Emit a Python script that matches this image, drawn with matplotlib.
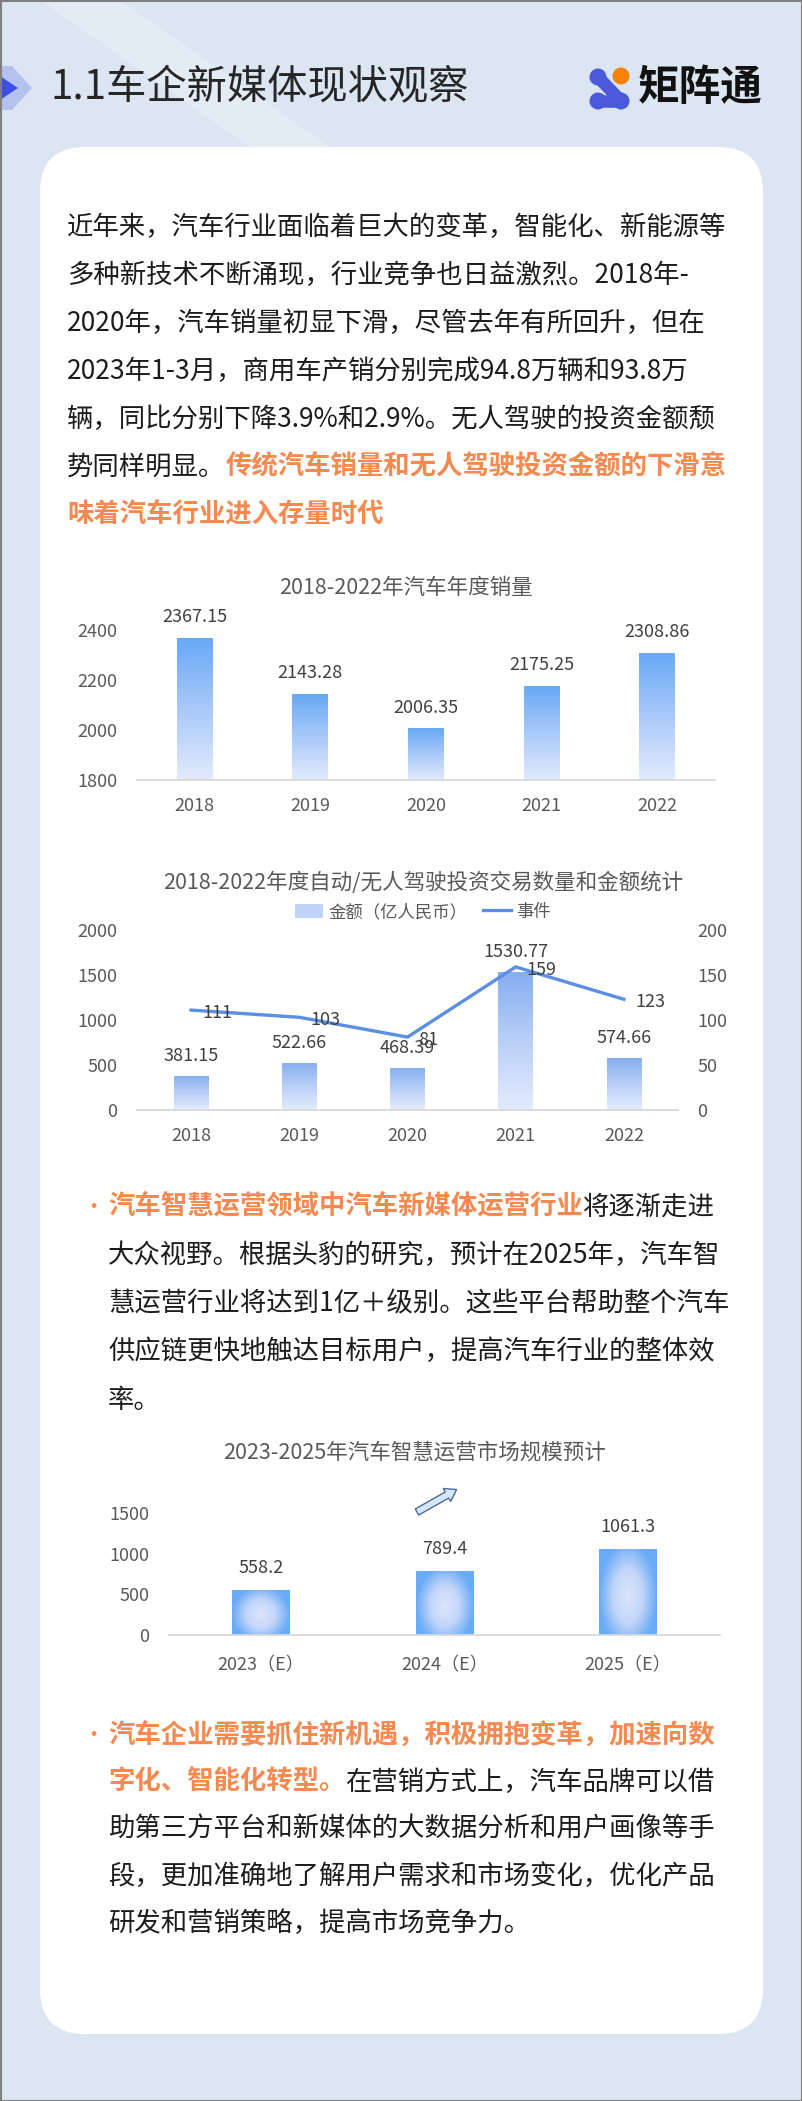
import numpy as np
import matplotlib.pyplot as plt
from matplotlib.patches import FancyBboxPatch, Polygon, Circle, Rectangle, FancyArrow
from matplotlib.lines import Line2D
from matplotlib.colors import LinearSegmentedColormap

plt.rcParams['font.family'] = ['Noto Sans CJK SC', 'DejaVu Sans']

W, H = 802, 2101

# ---- data ----
sales_years = ['2018', '2019', '2020', '2021', '2022']
sales_values = [2367.15, 2143.28, 2006.35, 2175.25, 2308.86]
sales_ticks = [1800, 2000, 2200, 2400]

invest_years = ['2018', '2019', '2020', '2021', '2022']
invest_amount = [381.15, 522.66, 468.39, 1530.77, 574.66]
invest_events = [111, 103, 81, 159, 123]
amount_ticks = [0, 500, 1000, 1500, 2000]
event_ticks = [0, 50, 100, 150, 200]

market_years = ['2023（E）', '2024（E）', '2025（E）']
market_values = [558.2, 789.4, 1061.3]
market_ticks = [0, 500, 1000, 1500]

title = '1.1车企新媒体现状观察'
chart_titles = ['2018-2022年汽车年度销量',
                '2018-2022年度自动/无人驾驶投资交易数量和金额统计',
                '2023-2025年汽车智慧运营市场规模预计']

para1 = [
    [('近年来，汽车行业面临着巨大的变革，智能化、新能源等', 'k')],
    [('多种新技术不断涌现，行业竞争也日益激烈。2018年-', 'k')],
    [('2020年，汽车销量初显下滑，尽管去年有所回升，但在', 'k')],
    [('2023年1-3月，商用车产销分别完成94.8万辆和93.8万', 'k')],
    [('辆，同比分别下降3.9%和2.9%。无人驾驶的投资金额颓', 'k')],
    [('势同样明显。', 'k'), ('传统汽车销量和无人驾驶投资金额的下滑意', 'o')],
    [('味着汽车行业进入存量时代', 'o')],
]
para2 = [
    [('汽车智慧运营领域中汽车新媒体运营行业', 'o'), ('将逐渐走进', 'k')],
    [('大众视野。根据头豹的研究，预计在2025年，汽车智', 'k')],
    [('慧运营行业将达到1亿＋级别。这些平台帮助整个汽车', 'k')],
    [('供应链更快地触达目标用户，提高汽车行业的整体效', 'k')],
    [('率。', 'k')],
]
para3 = [
    [('汽车企业需要抓住新机遇，积极拥抱变革，加速向数', 'o')],
    [('字化、智能化转型。', 'o'), ('在营销方式上，汽车品牌可以借', 'k')],
    [('助第三方平台和新媒体的大数据分析和用户画像等手', 'k')],
    [('段，更加准确地了解用户需求和市场变化，优化产品', 'k')],
    [('研发和营销策略，提高市场竞争力。', 'k')],
]

ORANGE = '#f5894f'
BLACK = '#1c1c1c'
TICK = '#595959'
FS = 13

fig = plt.figure(figsize=(W / 100, H / 100), dpi=100)
fig.patch.set_facecolor('#dce6f2')

bg = fig.add_axes([0, 0, 1, 1])
bg.set_xlim(0, W)
bg.set_ylim(H, 0)
bg.axis('off')

# background decoration
bg.add_patch(Polygon([(40, 0), (120, 0), (330, 147), (250, 147)],
                     color='#e3ebf5', lw=0, zorder=0))
bg.add_patch(Polygon([(0, 66), (12, 66), (32, 88), (12, 110), (0, 110)],
                     color='#b3c3ee', lw=0, zorder=1))
bg.add_patch(Polygon([(0, 76), (18, 88), (0, 100)], color='#3b4fe3', lw=0, zorder=2))

bg.text(51, 88, title, fontsize=29, color='#262626', va='center', ha='left')

# logo
blue = '#4a5ad8'
bg.plot([598, 621], [77, 101], color=blue, lw=9, solid_capstyle='round', zorder=3)
bg.plot([598, 621], [101, 101], color=blue, lw=9, solid_capstyle='round', zorder=3)
for cx, cy, c in [(598, 77, blue), (598, 101, blue), (621, 101, blue), (621, 76, '#f5820d')]:
    bg.add_patch(Circle((cx, cy), 8.5, color=c, lw=0, zorder=4))
bg.text(638, 88, '矩阵通', fontsize=30, fontweight='black', color='#111111',
        va='center', ha='left')

# card
bg.add_patch(FancyBboxPatch((40, 147), 723, 1887,
                            boxstyle='round,pad=0,rounding_size=45',
                            facecolor='white', edgecolor='none', zorder=1))
bg.add_patch(Rectangle((0.5, 0.5), W - 1, H - 1, fill=False,
                       edgecolor='#7f7f7f', lw=1.5, zorder=10))


def draw_lines(lines, x, y0, step, bullet=False):
    for i, segs in enumerate(lines):
        y = y0 + step * i
        prev = None
        for s, c in segs:
            kw = dict(fontsize=19, va='center', ha='left',
                      color=ORANGE if c == 'o' else BLACK,
                      fontweight='bold' if c == 'o' else 'normal', zorder=5)
            if prev is None:
                prev = bg.text(x, y, s, **kw)
            else:
                prev = bg.annotate(s, xy=(1, 0.5), xycoords=prev, **kw)
    if bullet:
        bg.text(93, y0, '•', fontsize=16, color=ORANGE, va='center', ha='center')


draw_lines(para1, 67, 227, 48)
draw_lines(para2, 108, 1207, 48.3, bullet=True)
draw_lines(para3, 108, 1736, 46.8, bullet=True)


def px_axes(l, t, r, b):
    return fig.add_axes([l / W, 1 - b / H, (r - l) / W, (b - t) / H])


def style(ax, pad_y=14, pad_x=12):
    for s in ax.spines.values():
        s.set_visible(False)
    ax.spines['bottom'].set_visible(True)
    ax.spines['bottom'].set_color('#d9d9d9')
    ax.spines['bottom'].set_linewidth(1.3)
    ax.tick_params(length=0, labelsize=FS, labelcolor=TICK)
    ax.tick_params(axis='y', pad=pad_y)
    ax.tick_params(axis='x', pad=pad_x)
    ax.patch.set_visible(False)


lin_grad = np.linspace(0, 1, 256).reshape(-1, 1)
yy, xx = np.mgrid[0:1:200j, 0:1:100j]
rad_grad = np.clip(np.sqrt(((xx - 0.5) / 0.5) ** 2 + ((yy - 0.55) / 0.62) ** 2), 0, 1)


def gradient_bars(ax, heights, width, bottom, cmap, grad):
    x = np.arange(len(heights))
    bars = ax.bar(x, heights, width, bottom=bottom, color='none', edgecolor='none')
    for p in bars.patches:
        x0, y0, w, h = p.get_x(), p.get_y(), p.get_width(), p.get_height()
        img = ax.imshow(grad, extent=[x0, x0 + w, y0, y0 + h], cmap=cmap,
                        aspect='auto', zorder=2, interpolation='bilinear')
        img.set_clip_path(p)
    return bars


# ---- chart 1 ----
cmap1 = LinearSegmentedColormap.from_list('c1', ['#68a9f5', '#a9c9f9', '#e2ebfd'])
ax1 = px_axes(137, 630, 715, 780)
style(ax1)
base = sales_ticks[0]
gradient_bars(ax1, [v - base for v in sales_values], 0.31, base, cmap1, lin_grad)
for i, v in enumerate(sales_values):
    ax1.annotate(f'{v:.2f}', (i, v), xytext=(0, 15), textcoords='offset points',
                 ha='center', va='center', fontsize=FS, color='#404040')
ax1.set_xlim(-0.5, len(sales_years) - 0.5)
ax1.set_ylim(sales_ticks[0], sales_ticks[-1])
ax1.set_xticks(range(len(sales_years)), sales_years)
ax1.set_yticks(sales_ticks)
bg.text(406, 588, chart_titles[0], fontsize=15.5, color=TICK, ha='center', va='center')

# ---- chart 2 ----
cmap2 = LinearSegmentedColormap.from_list('c2', ['#86aef0', '#b9cff7', '#e4ecfd'])
ax2 = px_axes(137, 930, 678, 1110)
style(ax2)
gradient_bars(ax2, invest_amount, 0.32, 0, cmap2, lin_grad)
for i, v in enumerate(invest_amount):
    ax2.annotate(f'{v:.2f}', (i, v), xytext=(0, 14.5), textcoords='offset points',
                 ha='center', va='center', fontsize=FS, color='#404040')
ax2.set_xlim(-0.5, len(invest_years) - 0.5)
ax2.set_ylim(amount_ticks[0], amount_ticks[-1])
ax2.set_xticks(range(len(invest_years)), invest_years)
ax2.set_yticks(amount_ticks)
ax2r = ax2.twinx()
for s in ax2r.spines.values():
    s.set_visible(False)
ax2r.patch.set_visible(False)
ax2r.tick_params(length=0, labelsize=FS, labelcolor=TICK, pad=14)
line_color = '#5b8fe3'
ax2r.plot(range(len(invest_events)), invest_events, color=line_color, lw=2.4, zorder=3)
for i, v in enumerate(invest_events):
    ax2r.annotate(str(v), (i, v), xytext=(8, -2), textcoords='offset points',
                  ha='left', va='center', fontsize=FS, color='#404040')
ax2r.set_ylim(event_ticks[0], event_ticks[-1])
ax2r.set_yticks(event_ticks)
bg.text(423, 883, chart_titles[1], fontsize=15.5, color=TICK, ha='center', va='center')
handles = [Rectangle((0, 0), 1, 1, facecolor='#c0d4f7', edgecolor='none'),
           Line2D([0], [0], color=line_color, lw=2.4)]
fig.legend(handles, ['金额（亿人民币）', '事件'], loc='center',
           bbox_to_anchor=(423 / W, 1 - 912 / H), ncol=2, frameon=False,
           fontsize=12.5, labelcolor=TICK, handlelength=1.6, handleheight=0.9,
           columnspacing=0.9, handletextpad=0.3, borderpad=0.1)

# ---- chart 3 ----
cmap3 = LinearSegmentedColormap.from_list('c3', ['#dce5fb', '#c2d6fa', '#6aabf6'])
ax3 = px_axes(169, 1513, 720, 1635)
style(ax3, pad_y=14, pad_x=15)
gradient_bars(ax3, market_values, 0.315, 0, cmap3, rad_grad)
for i, v in enumerate(market_values):
    ax3.annotate(f'{v:.1f}', (i, v), xytext=(0, 15.5), textcoords='offset points',
                 ha='center', va='center', fontsize=FS, color='#404040')
ax3.set_xlim(-0.5, len(market_years) - 0.5)
ax3.set_ylim(market_ticks[0], market_ticks[-1])
ax3.set_xticks(range(len(market_years)), market_years)
ax3.set_yticks(market_ticks)
bg.text(414, 1453, chart_titles[2], fontsize=15.5, color=TICK, ha='center', va='center')
bg.add_patch(FancyArrow(417, 1512, 30, -17, width=7, head_width=15, head_length=11,
                        length_includes_head=False, facecolor='#d4e8fb',
                        edgecolor='#4d6a96', lw=1, zorder=5))

fig.savefig('out.png', dpi=100)
